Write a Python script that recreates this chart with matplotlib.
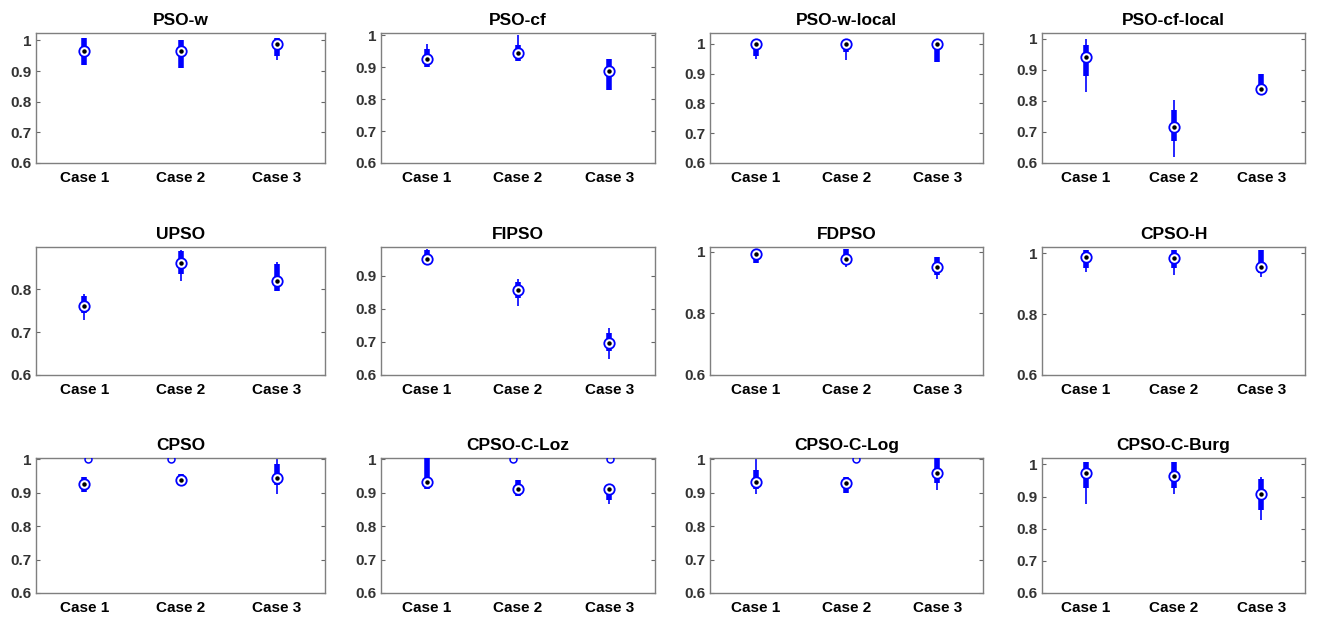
import matplotlib
matplotlib.use('Agg')
import matplotlib.pyplot as plt

plt.rcParams['font.family'] = ['Liberation Sans', 'DejaVu Sans']
plt.rcParams['font.weight'] = 'bold'

cases = ['Case 1', 'Case 2', 'Case 3']
titles = ['PSO-w', 'PSO-cf', 'PSO-w-local', 'PSO-cf-local',
          'UPSO', 'FIPSO', 'FDPSO', 'CPSO-H',
          'CPSO', 'CPSO-C-Loz', 'CPSO-C-Log', 'CPSO-C-Burg']

# per panel, per case: lower whisker, q1, median, q3, upper whisker
whislo = [[0.920, 0.910, 0.937], [0.900, 0.920, 0.830], [0.948, 0.944, 0.938], [0.828, 0.618, 0.825],
          [0.728, 0.820, 0.795], [0.936, 0.808, 0.649], [0.964, 0.951, 0.911], [0.939, 0.928, 0.920],
          [0.902, 0.932, 0.897], [0.910, 0.889, 0.865], [0.897, 0.900, 0.907], [0.878, 0.909, 0.828]]
q1 = [[0.921, 0.910, 0.950], [0.900, 0.920, 0.830], [0.960, 0.972, 0.938], [0.880, 0.670, 0.830],
      [0.744, 0.836, 0.795], [0.936, 0.831, 0.672], [0.964, 0.962, 0.925], [0.950, 0.950, 0.934],
      [0.902, 0.932, 0.922], [0.910, 0.889, 0.879], [0.910, 0.900, 0.930], [0.926, 0.926, 0.857]]
medians = [[0.964, 0.964, 0.989], [0.925, 0.944, 0.888], [1.000, 1.000, 1.000], [0.940, 0.716, 0.839],
           [0.760, 0.861, 0.819], [0.950, 0.855, 0.695], [0.992, 0.976, 0.951], [0.988, 0.985, 0.954],
           [0.925, 0.939, 0.943], [0.933, 0.912, 0.912], [0.932, 0.929, 0.960], [0.974, 0.964, 0.909]]
q3 = [[1.008, 1.000, 1.008], [0.958, 0.969, 0.927], [1.000, 1.000, 1.000], [0.978, 0.769, 0.887],
      [0.785, 0.888, 0.858], [0.978, 0.881, 0.727], [1.007, 1.011, 0.982], [1.010, 1.010, 1.010],
      [0.947, 0.957, 0.987], [1.004, 0.937, 0.919], [0.967, 0.947, 1.005], [1.007, 1.007, 0.955]]
whishi = [[1.008, 1.000, 1.008], [0.971, 1.002, 0.927], [1.000, 1.000, 1.000], [1.000, 0.801, 0.887],
          [0.789, 0.892, 0.862], [0.980, 0.891, 0.742], [1.007, 1.011, 0.982], [1.010, 1.010, 1.010],
          [0.947, 0.957, 1.002], [1.004, 0.937, 0.919], [1.000, 0.947, 1.005], [1.007, 1.007, 0.961]]
# outliers: (panel, case, x jitter, value)
outliers = [(8, 0, 0.04, 1.0), (8, 1, -0.10, 1.0),
            (9, 1, -0.05, 1.0), (9, 2, 0.01, 1.0),
            (10, 1, 0.10, 1.0)]

ylims = [(0.6, 1.024), (0.6, 1.007), (0.6, 1.036), (0.6, 1.018),
         (0.6, 0.898), (0.6, 0.986), (0.6, 1.016), (0.6, 1.02),
         (0.6, 1.004), (0.6, 1.004), (0.6, 1.004), (0.6, 1.02)]
yticks = [[0.6, 0.7, 0.8, 0.9, 1.0]] * 4 + \
         [[0.6, 0.7, 0.8], [0.6, 0.7, 0.8, 0.9], [0.6, 0.8, 1.0], [0.6, 0.8, 1.0]] + \
         [[0.6, 0.7, 0.8, 0.9, 1.0]] * 4

W, H = 1318, 617
fig = plt.figure(figsize=(W / 100, H / 100), dpi=100)
cols = [(36, 325), (381, 655), (710, 983), (1042, 1305)]
rows = [(33, 163), (247, 375), (458, 593)]

blue = '#0000ff'
for i, title in enumerate(titles):
    r, c = divmod(i, 4)
    x0, x1 = cols[c]
    t, b = rows[r]
    ax = fig.add_axes([x0 / W, 1 - b / H, (x1 - x0) / W, (b - t) / H])
    xs = [1, 2, 3]
    ax.vlines(xs, whislo[i], whishi[i], color=blue, lw=1.2, zorder=2)
    ax.vlines(xs, q1[i], q3[i], color=blue, lw=4.0, zorder=3)
    ax.plot(xs, medians[i], 'o', ms=7.5, mfc='white', mec=blue, mew=1.3, zorder=4)
    ax.plot(xs, medians[i], 'o', ms=2.2, color='black', zorder=5)
    for p, k, dx, v in outliers:
        if p == i:
            ax.plot(xs[k] + dx, v, 'o', ms=5, mfc='none', mec=blue, mew=1.1, zorder=4)
    ax.set_xlim(0.5, 3.5)
    ax.set_ylim(*ylims[i])
    ax.set_yticks(yticks[i])
    ax.set_yticklabels(['%g' % v for v in yticks[i]])
    ax.set_xticks(xs)
    ax.set_xticklabels(cases, fontsize=11, fontweight='bold', color='black')
    ax.tick_params(axis='x', length=0, pad=6)
    ax.tick_params(axis='y', direction='in', length=3, right=True, labelsize=11,
                   labelcolor='#333333', color='#666666', width=0.8)
    for s in ax.spines.values():
        s.set_color('#7f7f7f')
        s.set_linewidth(1.0)
    ax.set_title(title, fontsize=12.5, fontweight='bold', pad=6)

fig.savefig('out.png', dpi=100)
